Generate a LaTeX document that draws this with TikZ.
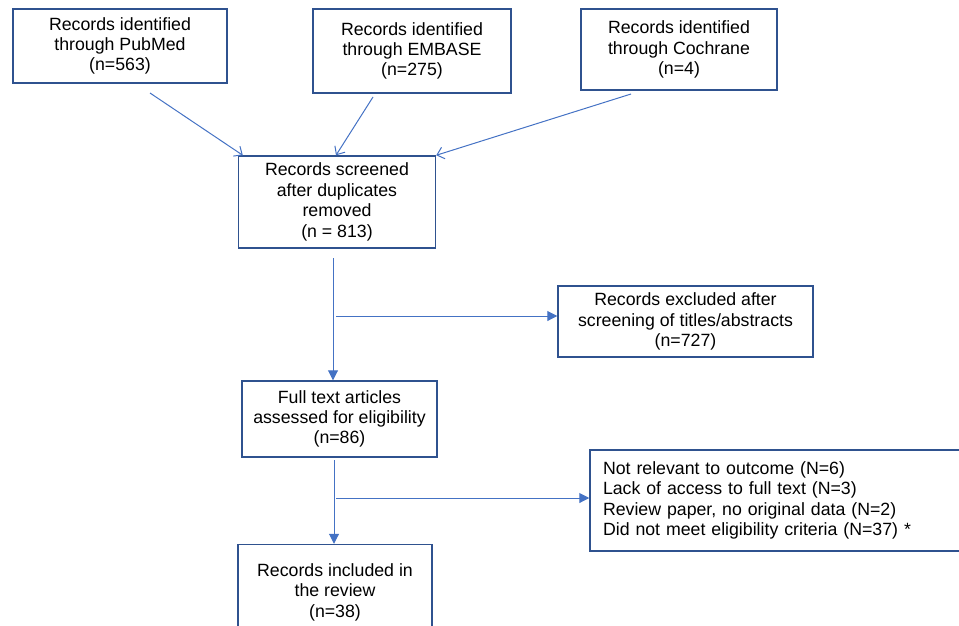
\documentclass[tikz,border=0pt]{standalone}
\usepackage{fontspec}
\setmainfont{Liberation Sans}
\usetikzlibrary{arrows.meta,calc}
\definecolor{boxblue}{HTML}{2F528F}
\definecolor{lineblue}{HTML}{4472C4}
\begin{document}
\begin{tikzpicture}[x=0.75pt,y=-0.75pt,
  main node/.style={rectangle,draw=boxblue,line width=1.1pt,align=center,
    font=\fontsize{13.3}{15.3}\selectfont,inner sep=0pt},
  feed/.style={draw=lineblue,line width=0.75pt,-{Straight Barb[length=5pt,width=9pt]}},
  flow/.style={draw=lineblue,line width=0.75pt,-{Triangle[length=7.5pt,width=7.5pt]}}]

  \clip (0,0) rectangle (959,625);

  \node[main node,minimum width=214*0.75pt,minimum height=74*0.75pt] (1) at (120,46)
    {Records identified\\through PubMed\\(n=563)};
  \node[main node,minimum width=198*0.75pt,minimum height=84*0.75pt] (2) at (412,51)
    {Records identified\\through EMBASE\\(n=275)};
  \node[main node,minimum width=196*0.75pt,minimum height=81*0.75pt] (3) at (679,49.5)
    {Records identified\\through Cochrane\\(n=4)};
  \node[main node,minimum width=197*0.75pt,minimum height=92*0.75pt] (4) at (337,202)
    {Records screened\\after duplicates\\removed\\(n = 813)};
  \node[main node,minimum width=255*0.75pt,minimum height=71*0.75pt] (5) at (685.5,321.5)
    {Records excluded after\\screening of titles/abstracts\\(n=727)};
  \node[main node,minimum width=195*0.75pt,minimum height=76*0.75pt] (6) at (339.5,419)
    {Full text articles\\assessed for eligibility\\(n=86)};
  \node[main node,align=left,text width=348*0.75pt,inner xsep=13*0.75pt,
    minimum height=101*0.75pt] (7) at (777,500.5)
    {Not relevant to outcome (N=6)\\Lack of access to full text (N=3)\\Review paper, no original data (N=2)\\Did not meet eligibility criteria (N=37) *};
  \node[main node,minimum width=194*0.75pt,minimum height=95*0.75pt] (8) at (335,592)
    {Records included in\\the review\\(n=38)};

  \coordinate (a1) at (150,93);
  \coordinate (a2) at (373,97);
  \coordinate (a3) at (631,94);
  \coordinate (a4) at (333,258);
  \coordinate (a5) at (336,316);
  \coordinate (a6) at (334,460);
  \coordinate (a7) at (336,498);

  \path
   (a1) edge[feed] ($(4.north west)+(5,0)$)
   (a2) edge[feed] ($(4.north)+(-1,0)$)
   (a3) edge[feed] (4.north east)
   (a4) edge[flow] (a4 |- 6.north)
   (a5) edge[flow] (a5 -| 5.west)
   (a6) edge[flow] (a6 |- 8.north)
   (a7) edge[flow] (a7 -| 7.west);
\end{tikzpicture}
\end{document}
